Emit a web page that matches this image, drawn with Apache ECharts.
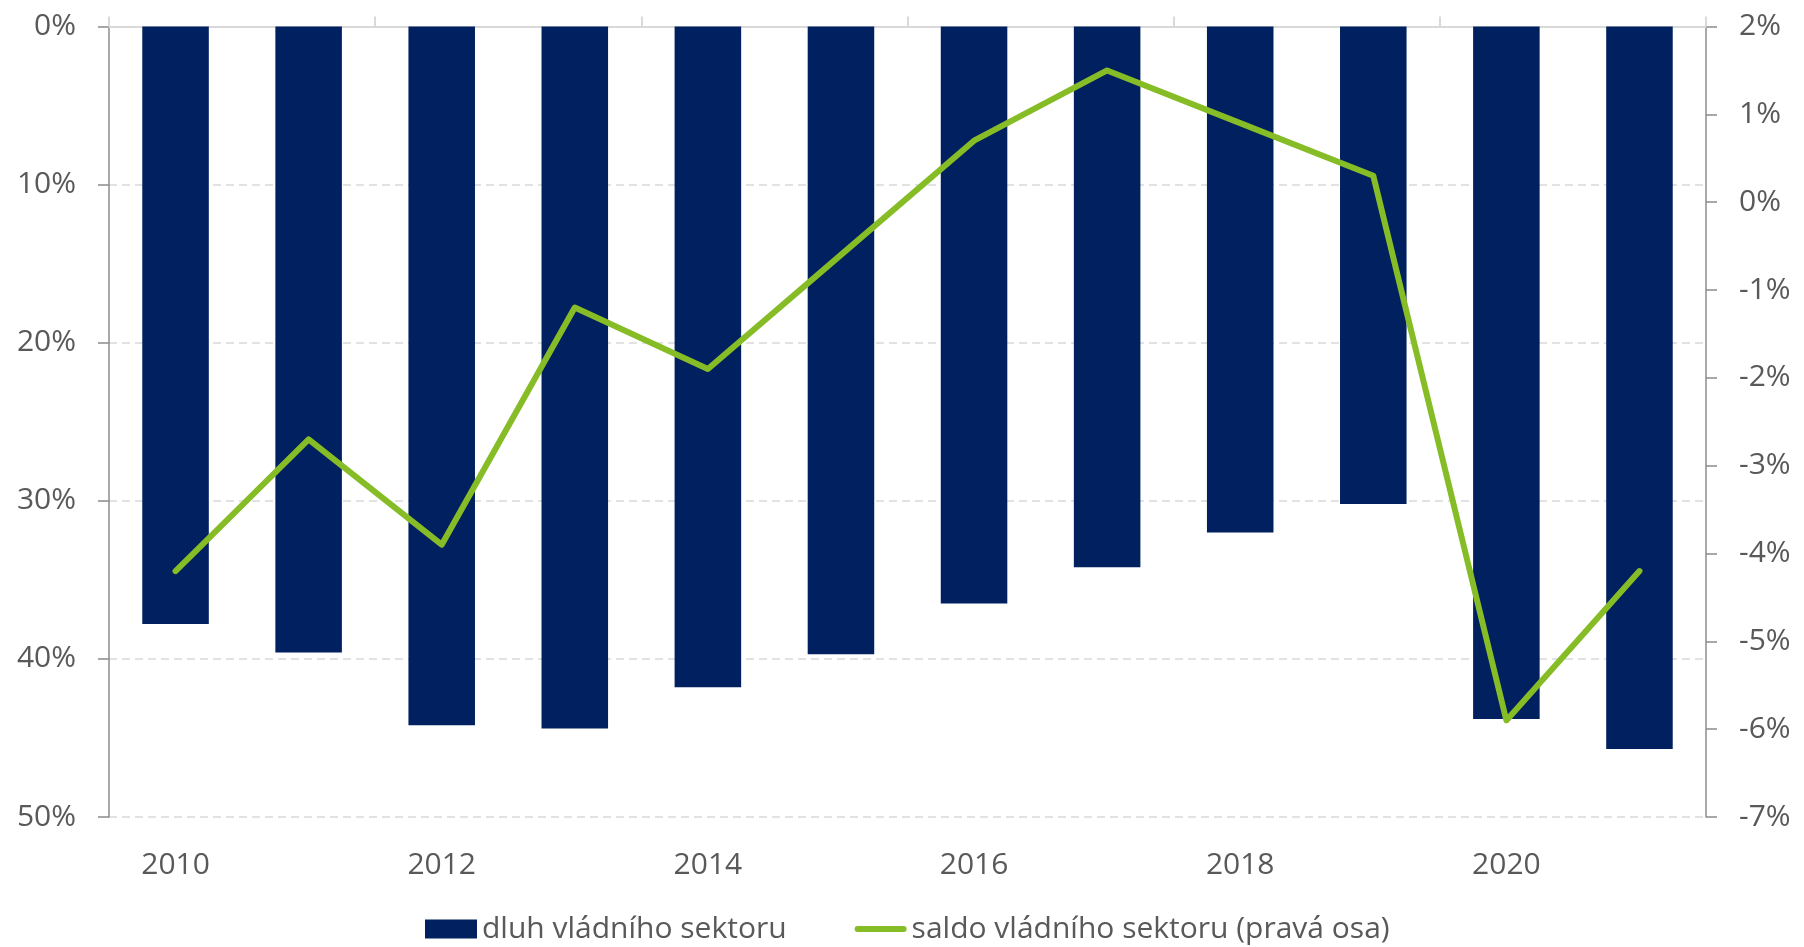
<!DOCTYPE html>
<html style="height: 100%">
<head>
    <meta charset="utf-8">
</head>
<body style="height: 100%; margin: 0; background: #fff">
<div id="container" style="width: 1804px; height: 947px"></div>
<script type="text/javascript" src="https://cdn.jsdelivr.net/npm/echarts@6/dist/echarts.min.js"></script>
<script type="text/javascript">
    // roky a hodnoty
    var years = ['2010', '2011', '2012', '2013', '2014', '2015', '2016', '2017', '2018', '2019', '2020', '2021'];
    var dluh = [37.8, 39.6, 44.2, 44.4, 41.8, 39.7, 36.5, 34.2, 32.0, 30.2, 43.8, 45.7];
    var saldo = [-4.2, -2.7, -3.9, -1.2, -1.9, -0.6, 0.7, 1.5, 0.9, 0.3, -5.9, -4.2];

    var dom = document.getElementById("container");
    var myChart = echarts.init(dom);
    var textColor = '#595959';
    var fontFam = '"Open Sans", "Noto Sans", sans-serif';

    var option = {
        animation: false,
        textStyle: { fontFamily: fontFam },
        grid: {
            left: 109,
            right: 98,
            top: 26.5,
            bottom: 130,
            containLabel: false
        },
        legend: {
            left: 425,
            top: 914,
            padding: 0,
            itemGap: 68,
            itemWidth: 52,
            itemHeight: 19,
            textStyle: { color: textColor, fontSize: 30, fontFamily: fontFam },
            data: [
                { name: 'dluh vládního sektoru', icon: 'rect' },
                {
                    name: 'saldo vládního sektoru (pravá osa)',
                    icon: 'path://M3,0 L49,0 A3,3 0 0 1 49,6 L3,6 A3,3 0 0 1 3,0 Z'
                }
            ]
        },
        xAxis: [
            {
                type: 'category',
                data: years,
                position: 'bottom',
                axisLine: { show: false },
                axisTick: { show: false },
                axisLabel: {
                    interval: 1,
                    color: textColor,
                    fontSize: 30,
                    margin: 33
                }
            },
            {
                type: 'category',
                data: years,
                position: 'top',
                axisLine: { show: true, onZero: false, lineStyle: { color: '#d9d9d9', width: 2 } },
                axisTick: { show: true, interval: 1, length: 10, lineStyle: { color: '#d9d9d9', width: 2 } },
                axisLabel: { show: false }
            }
        ],
        yAxis: [
            {
                type: 'value',
                inverse: true,
                min: 0,
                max: 50,
                interval: 10,
                axisLine: { show: true, lineStyle: { color: '#8c8c8c', width: 1.5 } },
                axisTick: { show: true, length: 11, lineStyle: { color: '#8c8c8c', width: 1.5 } },
                axisLabel: {
                    formatter: '{value}%',
                    color: textColor,
                    fontSize: 30,
                    margin: 33
                },
                splitLine: { show: true, lineStyle: { color: '#d9d9d9', type: [8, 5], width: 1.5 } }
            },
            {
                type: 'value',
                position: 'right',
                min: -7,
                max: 2,
                interval: 1,
                axisLine: { show: true, lineStyle: { color: '#8c8c8c', width: 1.5 } },
                axisTick: { show: true, length: 11, lineStyle: { color: '#8c8c8c', width: 1.5 } },
                axisLabel: {
                    formatter: '{value}%',
                    color: textColor,
                    fontSize: 30,
                    margin: 33
                },
                splitLine: { show: false }
            }
        ],
        series: [
            {
                name: 'dluh vládního sektoru',
                type: 'bar',
                xAxisIndex: 0,
                yAxisIndex: 0,
                barWidth: '50%',
                itemStyle: { color: '#002060' },
                data: dluh
            },
            {
                name: 'saldo vládního sektoru (pravá osa)',
                type: 'line',
                xAxisIndex: 0,
                yAxisIndex: 1,
                symbol: 'none',
                itemStyle: { color: '#86bc25' },
                lineStyle: { color: '#86bc25', width: 6, cap: 'round', join: 'round' },
                data: saldo
            }
        ]
    };

    if (option && typeof option === "object") {
        myChart.setOption(option, true);
    }
</script>
</body>
</html>
